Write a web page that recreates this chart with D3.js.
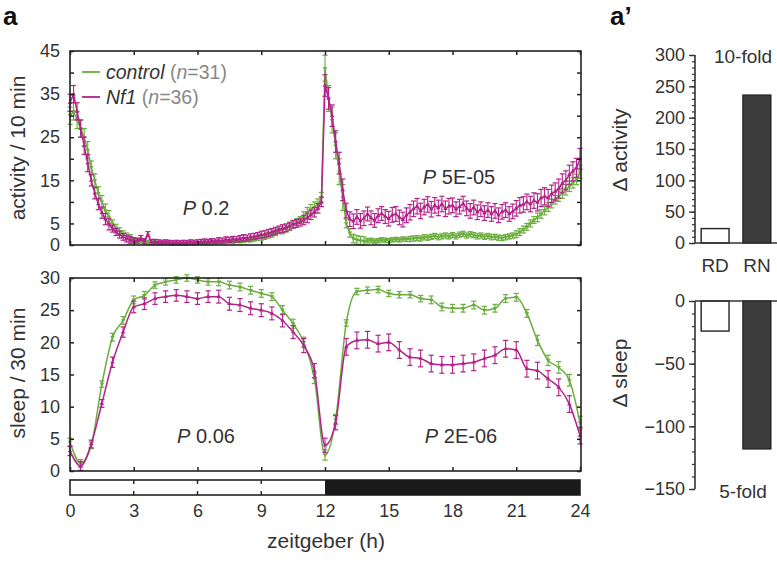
<!DOCTYPE html>
<html><head><meta charset="utf-8">
<script src="https://cdn.jsdelivr.net/npm/d3@7/dist/d3.min.js"></script>
<style>
body{margin:0;background:#fff;}
svg text{font-family:"Liberation Sans",Arial,sans-serif;fill:#333;}
</style></head>
<body><svg id="c" width="777" height="562"></svg>
<script>
// ---------- DATA ----------
// activity per 10 min, t = 0 .. 24 h in 10-min steps (145 points)
const actControl = [
30,31,29,27,25,22, 18,15,12,10,8,6.5, 5,4,3.2,2.5,2,1.6,
1.3,1.1,0.9,0.8,0.7,0.6, 0.6,0.5,0.5,0.5,0.4,0.4, 0.4,0.4,0.3,0.4,0.4,0.4,
0.4,0.5,0.4,0.5,0.5,0.6, 0.6,0.7,0.6,0.8,0.7,0.9, 0.9,1.0,1.2,1.1,1.3,1.5,
1.7,1.9,2.2,2.4,2.8,3.2, 3.4,3.8,4.2,4.8,5.3,5.8, 6.5,7.5,8.2,8.8,9.5,11,
41, 34,29,23,17,11,5, 2.8,1.5,
1.2,1.0,0.9,1.0,1.1,0.9,1.0,1.2,1.1,1.0,1.2,1.3,1.2,1.4,1.3,
1.4,1.5,1.6,1.5,1.8,1.7,1.9,2.1,1.8,2.0,2.2,2.0,
2.3,2.0,2.4,2.6,2.2,2.5,2.3,2.0,2.2,1.9,2.1,1.8,1.9,1.7,1.6,1.8,2.0,2.2,
2.5,3.0,3.6,4.2,5.0,5.8,6.4,7.2,8.0,8.8,9.6,10.5,11.3,12.0,12.8,13.6,14.4,15.2,
17];
const actNf1 = [
33,35,31,27,23,19, 15,12,9.5,7.5,6,4.8, 3.8,3,2.4,1.9,1.5,1.2,
1.1,1.0,1.6,0.9,2.5,0.7, 0.8,0.7,0.6,0.7,0.6,0.5, 0.6,0.5,0.6,0.5,0.7,0.6,
0.7,0.8,0.9,0.8,1.0,0.9, 1.1,1.0,1.3,1.2,1.4,1.3, 1.5,1.7,1.6,1.9,2.0,2.2,
2.4,2.5,2.8,3.0,3.3,3.6, 3.8,4.0,4.4,4.8,5.0,5.3, 5.8,6.3,7.0,7.6,8.5,10,
37, 34,30,24,19,12.8,8, 6,5.5,
6.5,5.6,6.2,7.2,6.3,5.7,6.8,7.3,6.6,6.1,7.0,7.2,6.4,5.9,6.9,
7.6,8.4,9.0,7.9,8.8,9.4,8.3,9.2,8.6,9.5,8.4,9.0,
9.2,8.3,8.9,9.6,8.5,7.9,8.7,7.6,8.3,7.4,8.1,7.2,7.9,6.9,7.7,8.1,7.2,7.8,
8.5,9.2,9.4,10.0,9.5,10.3,9.9,10.9,11.3,10.9,11.9,12.4,13.1,14.3,15.0,16.3,17.1,17.9,
20];
// SEM per hour (index = hour 0..24)
const actControlSem = [2.0,1.5,0.8,0.4,0.3,0.3,0.3,0.3,0.4,0.6,0.8,1.2,3.0,1.0,0.5,0.5,0.6,0.6,0.6,0.6,0.6,0.8,1.0,1.2,1.5];
const actNf1Sem     = [2.0,1.3,0.8,0.6,0.5,0.5,0.5,0.6,0.7,0.8,0.9,1.1,2.5,1.7,1.6,1.7,1.8,1.8,1.7,1.7,1.7,1.8,2.0,2.2,2.4];

// sleep per 30 min, t = 0 .. 24 h in 30-min steps (49 points)
const sleepControl = [4.5,1.2,4.0,13.5,20.8,23.4,26.6,27.3,28.9,29.4,29.7,30.0,29.7,29.4,29.4,28.9,28.6,28.1,27.6,27.1,25.0,22.9,20.0,14.4,
2.5,8.0,
23.0,27.9,28.1,28.2,27.6,27.4,27.4,26.8,26.6,25.5,25.3,25.3,25.8,25.0,25.3,26.8,27.0,24.5,20.3,17.2,16.1,14.1,7.5];
const sleepNf1 = [3.1,0.8,4.2,10.5,16.9,21.6,25.5,26.0,26.8,27.1,27.3,27.1,26.8,27.1,27.1,26.0,25.8,25.3,25.0,24.5,23.4,21.6,19.5,15.6,
4.0,7.5,
19.3,20.3,20.4,19.8,20.0,18.8,17.7,17.5,16.7,16.5,16.5,16.7,16.9,17.5,18.0,19.0,18.8,15.9,15.6,14.3,13.0,10.4,5.5];
const sleepControlSem = [0.6,0.5,0.6,0.6,0.5,0.5,0.5,0.6,0.6,0.6,0.7,0.8,0.8,0.5,0.5,0.5,0.5,0.6,0.6,0.6,0.6,0.6,0.8,0.9,1.0];
const sleepNf1Sem     = [0.7,0.6,0.8,0.9,0.9,0.9,0.9,1.0,1.0,1.0,1.0,1.1,1.1,1.3,1.3,1.3,1.3,1.3,1.3,1.3,1.3,1.3,1.3,1.3,1.3];

const xTicks = [0,3,6,9,12,15,18,21,24];
const actTickLabels = [0,5,15,25,35,45];
const sleepTickLabels = [0,5,10,15,20,25,30];

const barCats = ["RD","RN"];
const deltaActivity = [23,236];
const deltaSleep = [-24,-118];
const actBarTicks = [0,50,100,150,200,250,300];
const sleepBarTicks = [0,-50,-100,-150];

// ---------- DRAW ----------
const GREEN = "#6aae3e", MAG = "#b3228a", TXT = "#333";
const TICKFS = 18;
const svg = d3.select("#c");

const x = d3.scaleLinear().domain([0,24]).range([70,580]);
const yA = d3.scaleLinear().domain([0,45]).range([245,51]);
const yS = d3.scaleLinear().domain([0,30]).range([471,278]);

function toPts(vals, step, sem){
  return vals.map((v,i)=>{const t=i*step; return {t, v, e: sem[Math.min(24,Math.floor(t+1e-9))]};});
}

function panel(y, ySemTicks, labelTicks, series, curve){
  const [y0,y1] = y.range();
  const g = svg.append("g");
  series.forEach(s=>{
    const sg = g.append("g");
    const line = d3.line().x(d=>x(d.t)).y(d=>y(d.v)).curve(curve);
    sg.append("path").datum(s.pts).attr("d",line).attr("fill","none").attr("stroke",s.color).attr("stroke-width",1.5);
    const eb = sg.selectAll("g.eb").data(s.pts).enter().append("g");
    eb.append("line").attr("x1",d=>x(d.t)).attr("x2",d=>x(d.t))
      .attr("y1",d=>y(Math.max(0,d.v-d.e))).attr("y2",d=>y(d.v+d.e))
      .attr("stroke",s.color).attr("stroke-width",1.1);
    [-1,1].forEach(sgn=>{
      eb.append("line").attr("x1",d=>x(d.t)-2.6).attr("x2",d=>x(d.t)+2.6)
        .attr("y1",d=>y(Math.max(0,d.v+sgn*d.e))).attr("y2",d=>y(Math.max(0,d.v+sgn*d.e)))
        .attr("stroke",s.color).attr("stroke-width",1.2);
    });
    eb.append("path").attr("d",d3.symbol(d3.symbolTriangle).size(9))
      .attr("transform",d=>`translate(${x(d.t)},${y(d.v)}) rotate(${s.rot})`)
      .attr("fill",s.color);
  });
  g.append("rect").attr("x",x(0)).attr("y",y1).attr("width",x(24)-x(0)+1).attr("height",y0-y1)
    .attr("fill","none").attr("stroke","#222").attr("stroke-width",1.6);
  const axT = d3.axisTop(x).tickValues(xTicks).tickSize(-4).tickFormat("");
  const axB = d3.axisBottom(x).tickValues(xTicks).tickSize(-4).tickFormat("");
  const axL = d3.axisLeft(y).tickValues(ySemTicks).tickSize(-4).tickPadding(10)
      .tickFormat(d=>labelTicks.includes(d)?d:"");
  const axR = d3.axisRight(y).tickValues(ySemTicks).tickSize(-4).tickFormat("");
  [[axT,`translate(0,${y1})`],[axB,`translate(0,${y0})`],[axL,`translate(${x(0)},0)`],[axR,`translate(${x(24)+1},0)`]]
    .forEach(([a,tr])=>{
      const ag = g.append("g").attr("transform",tr).call(a);
      ag.select(".domain").remove();
      ag.selectAll("line").attr("stroke","#222").attr("stroke-width",1.5);
      ag.selectAll("text").attr("font-size",TICKFS).style("fill",TXT).attr("font-family","Liberation Sans, Arial, sans-serif");
    });
  return g;
}

panel(yA, d3.range(0,46,5), actTickLabels, [
  {pts: toPts(actControl,1/6,actControlSem), color: GREEN, rot:180},
  {pts: toPts(actNf1,1/6,actNf1Sem), color: MAG, rot:0}
], d3.curveLinear);

panel(yS, d3.range(0,31,5), sleepTickLabels, [
  {pts: toPts(sleepControl,0.5,sleepControlSem), color: GREEN, rot:180},
  {pts: toPts(sleepNf1,0.5,sleepNf1Sem), color: MAG, rot:0}
], d3.curveMonotoneX);

// light/dark bar
const ld = svg.append("g");
ld.append("rect").attr("x",x(0)).attr("y",480).attr("width",x(24)-x(0)).attr("height",15)
  .attr("fill","#fff").attr("stroke","#222").attr("stroke-width",1.6);
ld.append("rect").attr("x",x(12)).attr("y",480).attr("width",x(24)-x(12)).attr("height",15).attr("fill","#1a1a1a");
[3,6,9].forEach(t=>{
  ld.append("line").attr("x1",x(t)).attr("x2",x(t)).attr("y1",480).attr("y2",484).attr("stroke","#222").attr("stroke-width",1.4);
  ld.append("line").attr("x1",x(t)).attr("x2",x(t)).attr("y1",491).attr("y2",495).attr("stroke","#222").attr("stroke-width",1.4);
});
const axX = ld.append("g").attr("transform","translate(0,496)")
  .call(d3.axisBottom(x).tickValues(xTicks).tickSize(0).tickPadding(8));
axX.select(".domain").remove();
axX.selectAll("text").attr("font-size",TICKFS).style("fill",TXT);

// axis titles
svg.append("text").attr("x",326).attr("y",548).attr("text-anchor","middle").attr("font-size",21).text("zeitgeber (h)");
svg.append("text").attr("transform","translate(25,148) rotate(-90)").attr("text-anchor","middle").attr("font-size",21).text("activity / 10 min");
svg.append("text").attr("transform","translate(25,373) rotate(-90)").attr("text-anchor","middle").attr("font-size",21).text("sleep / 30 min");

// panel letters
svg.append("text").attr("x",3).attr("y",25).attr("font-size",26).attr("font-weight","bold").style("fill","#111").text("a");
svg.append("text").attr("x",610).attr("y",25).attr("font-size",26).attr("font-weight","bold").style("fill","#111").text("a’");

// legend
const leg = [{c:GREEN,name:"control",n:"31",y:72},{c:MAG,name:"Nf1",n:"36",y:97}];
leg.forEach(l=>{
  svg.append("line").attr("x1",82).attr("x2",100).attr("y1",l.y).attr("y2",l.y).attr("stroke",l.c).attr("stroke-width",1.8);
  const t = svg.append("text").attr("x",106).attr("y",l.y+7).attr("font-size",19.5);
  t.append("tspan").attr("font-style","italic").style("fill","#333").text(l.name);
  t.append("tspan").style("fill","#888").text(" (");
  t.append("tspan").style("fill","#888").attr("font-style","italic").text("n");
  t.append("tspan").style("fill","#888").text("="+l.n+")");
});

// P labels
function pLabel(cx,y,val){
  const t = svg.append("text").attr("x",cx).attr("y",y).attr("font-size",20).attr("text-anchor","middle");
  t.append("tspan").attr("font-style","italic").text("P");
  t.append("tspan").text(" "+val);
}
pLabel(206,215,"0.2");
pLabel(459,184,"5E-05");
pLabel(206,443,"0.06");
pLabel(461,443,"2E-06");

// ---------- bar panels ----------
const xb = d3.scaleBand().domain(barCats).range([697,775]).paddingInner(0.333).paddingOuter(0.1);
const axisX0 = 695;
function barPanel(yScale, vals, ticks, title, ttlX, ttlY, label, labelY, showCats){
  const g = svg.append("g");
  g.selectAll("rect.b").data(barCats).enter().append("rect")
    .attr("x",d=>xb(d)).attr("width",xb.bandwidth())
    .attr("y",(d,i)=>Math.min(yScale(0),yScale(vals[i])))
    .attr("height",(d,i)=>Math.abs(yScale(vals[i])-yScale(0)))
    .attr("fill",(d,i)=>i===0?"#fff":"#3c3c3c").attr("stroke","#222").attr("stroke-width",1.4);
  g.append("line").attr("x1",axisX0).attr("x2",777).attr("y1",yScale(0)).attr("y2",yScale(0)).attr("stroke","#333").attr("stroke-width",1.6);
  const d = yScale.domain();
  const minor = d3.range(Math.min(...d), Math.max(...d)+1, 10);
  const am = g.append("g").attr("transform",`translate(${axisX0},0)`).call(d3.axisLeft(yScale).tickValues(minor).tickSize(3).tickFormat(""));
  am.selectAll("line").attr("stroke","#333").attr("stroke-width",1.2);
  am.select(".domain").remove();
  const aM = g.append("g").attr("transform",`translate(${axisX0},0)`).call(d3.axisLeft(yScale).tickValues(ticks).tickSize(6).tickPadding(4));
  aM.select(".domain").attr("d",`M0,${yScale.range()[0]}V${yScale.range()[1]}`).attr("stroke","#333").attr("stroke-width",1.6);
  aM.selectAll("line").attr("stroke","#333").attr("stroke-width",1.4);
  aM.selectAll("text").attr("font-size",TICKFS).style("fill",TXT);
  g.append("text").attr("x",ttlX).attr("y",ttlY).attr("text-anchor","middle").attr("font-size",19).text(title);
  g.append("text").attr("transform",`translate(627,${labelY}) rotate(-90)`).attr("text-anchor","middle").attr("font-size",21).text(label);
  if(showCats){
    g.selectAll("text.c").data(barCats).enter().append("text")
      .attr("x",c=>xb(c)+xb.bandwidth()/2).attr("y",272).attr("text-anchor","middle").attr("font-size",19).text(c=>c);
  }
}
const yBA = d3.scaleLinear().domain([0,300]).range([243,55]);
const yBS = d3.scaleLinear().domain([-150,0]).range([489,301]);
barPanel(yBA, deltaActivity, actBarTicks, "10-fold", 743, 63, "Δ activity", 150, true);
barPanel(yBS, deltaSleep, sleepBarTicks, "5-fold", 743, 498, "Δ sleep", 373, false);
</script></body></html>
